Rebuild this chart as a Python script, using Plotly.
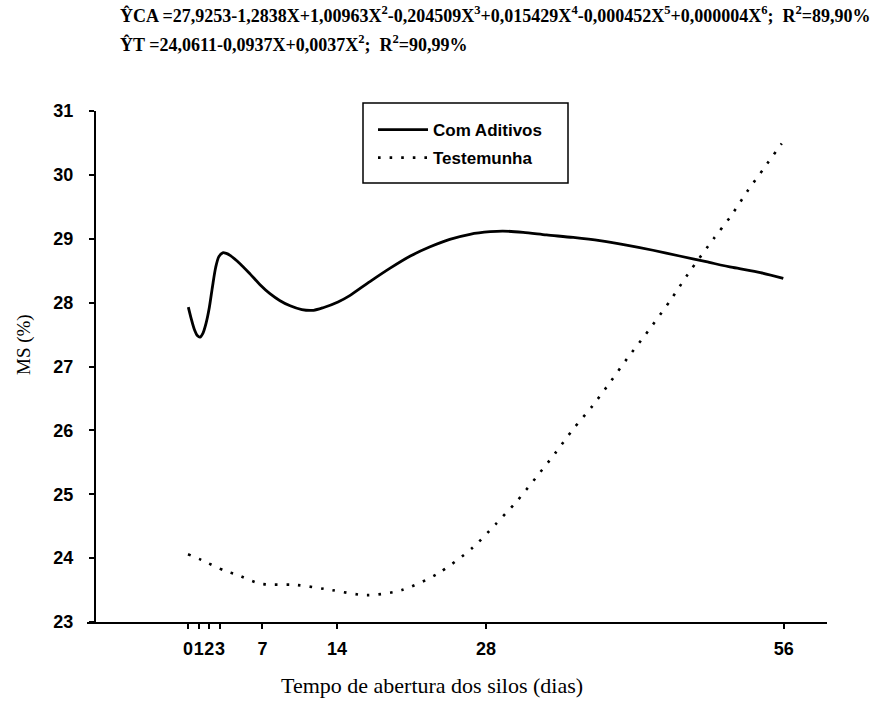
import plotly.graph_objects as go

# ---- data ----
dias_ticks = [0, 1, 2, 3, 7, 14, 28, 56]
y_ticks = [23, 24, 25, 26, 27, 28, 29, 30, 31]

ca_x = [0.03, 0.3, 0.6, 0.9, 1.13, 1.4, 1.7, 2.0, 2.3, 2.6, 2.9, 3.26, 3.6, 3.95, 4.89,
        5.83, 6.77, 7.7, 8.65, 9.6, 10.7, 11.8, 12.7, 14.1, 15.2, 17.1, 19.0, 20.9, 22.7,
        24.6, 26.5, 28.4, 29.6, 31.5, 33.7, 36.2, 38.7, 41.2, 43.7, 46.2, 48.7, 51.2,
        53.8, 55.95]
ca_y = [27.93, 27.75, 27.58, 27.48, 27.46, 27.52, 27.68, 27.92, 28.25, 28.55, 28.72, 28.78,
        28.77, 28.74, 28.61, 28.45, 28.28, 28.14, 28.03, 27.95, 27.89, 27.88, 27.92, 28.01,
        28.11, 28.33, 28.54, 28.73, 28.87, 28.99, 29.07, 29.11, 29.12, 29.10, 29.06, 29.02,
        28.97, 28.90, 28.82, 28.73, 28.64, 28.55, 28.47, 28.38]

t_x = [0.0, 1.28, 3.48, 4.6, 6.8, 10.2, 13.5, 16.8, 20.1, 23.5, 26.8, 28.9, 30.9, 32.7,
       34.5, 36.2, 38.0, 39.7, 41.3, 43.0, 45.4, 47.0, 49.4, 51.0, 52.6, 54.2, 55.8]
t_y = [24.06, 23.97, 23.80, 23.74, 23.60, 23.58, 23.50, 23.42, 23.50, 23.76, 24.17, 24.53,
       24.89, 25.26, 25.64, 26.02, 26.38, 26.76, 27.13, 27.50, 28.05, 28.45, 29.00, 29.35,
       29.75, 30.12, 30.49]

eq1 = ("ŶCA =27,9253-1,2838X+1,00963X<sup>2</sup>-0,204509X<sup>3</sup>+0,015429X<sup>4</sup>"
       "-0,000452X<sup>5</sup>+0,000004X<sup>6</sup>;  R<sup>2</sup>=89,90%")
eq2 = "ŶT =24,0611-0,0937X+0,0037X<sup>2</sup>;  R<sup>2</sup>=90,99%"

# ---- layout geometry ----
W, H = 871, 706
L, R, T, B = 87, 827, 111, 622


def fx(px):
    return (px - L) / (R - L)


def fy(py):
    return (B - py) / (B - T)


fig = go.Figure()
fig.add_trace(go.Scatter(x=ca_x, y=ca_y, mode="lines", name="Com Aditivos",
                         line=dict(color="black", width=2.8, shape="spline", smoothing=0.8),
                         legendgroup="a"))
fig.add_trace(go.Scatter(x=t_x, y=t_y, mode="lines", name="Testemunha",
                         line=dict(color="black", width=2.6, dash="2.6px,9px", shape="spline",
                                   smoothing=0.8),
                         legendgroup="b"))

tickfont = dict(family="Liberation Sans", size=18, color="black", weight="bold")
serif = "Liberation Serif"

fig.update_layout(
    width=W, height=H,
    margin=dict(l=L, r=W - R, t=T, b=H - B, pad=0),
    paper_bgcolor="white", plot_bgcolor="white",
    showlegend=True,
    legend=dict(x=fx(373), y=fy(112), xanchor="left", yanchor="top",
                bgcolor="rgba(0,0,0,0)", borderwidth=0,
                font=dict(family="Liberation Sans", size=17, color="black", weight="bold"),
                itemwidth=50, tracegroupgap=3),
    xaxis=dict(range=[(L - 188) / 10.64, (R - 188) / 10.64], tickmode="array",
               tickvals=dias_ticks, ticktext=[str(v) for v in dias_ticks], tickangle=0,
               showgrid=False, zeroline=False, showline=True, linecolor="black", linewidth=2,
               ticks="outside", ticklen=5, tickwidth=1.5, tickcolor="black",
               tickfont=tickfont, ticklabelstandoff=4),
    yaxis=dict(range=[23, 31], tickmode="array", tickvals=y_ticks,
               showgrid=False, zeroline=False, showline=True, linecolor="black", linewidth=2,
               ticks="outside", ticklen=5, tickwidth=1.5, tickcolor="black",
               tickfont=tickfont, anchor="free", position=fx(95), ticklabelstandoff=12),
    shapes=[dict(type="rect", xref="paper", yref="paper", x0=fx(363), x1=fx(568),
                 y0=fy(183), y1=fy(103), line=dict(color="black", width=1.5),
                 fillcolor="white", layer="below")],
    annotations=[
        dict(text=eq1, xref="paper", yref="paper", x=fx(118), y=fy(14), xanchor="left",
             yanchor="middle", showarrow=False,
             font=dict(family=serif, size=18, color="black", weight="bold")),
        dict(text=eq2, xref="paper", yref="paper", x=fx(118), y=fy(44), xanchor="left",
             yanchor="middle", showarrow=False,
             font=dict(family=serif, size=18, color="black", weight="bold")),
        dict(text="Tempo de abertura dos silos (dias)", xref="paper", yref="paper",
             x=fx(432), y=fy(685), xanchor="center", yanchor="middle", showarrow=False,
             font=dict(family=serif, size=22, color="black")),
        dict(text="MS (%)", xref="paper", yref="paper", x=fx(24), y=fy(345),
             xanchor="center", yanchor="middle", showarrow=False, textangle=-90,
             font=dict(family=serif, size=19, color="black")),
    ],
)

fig.write_html("out.html")
